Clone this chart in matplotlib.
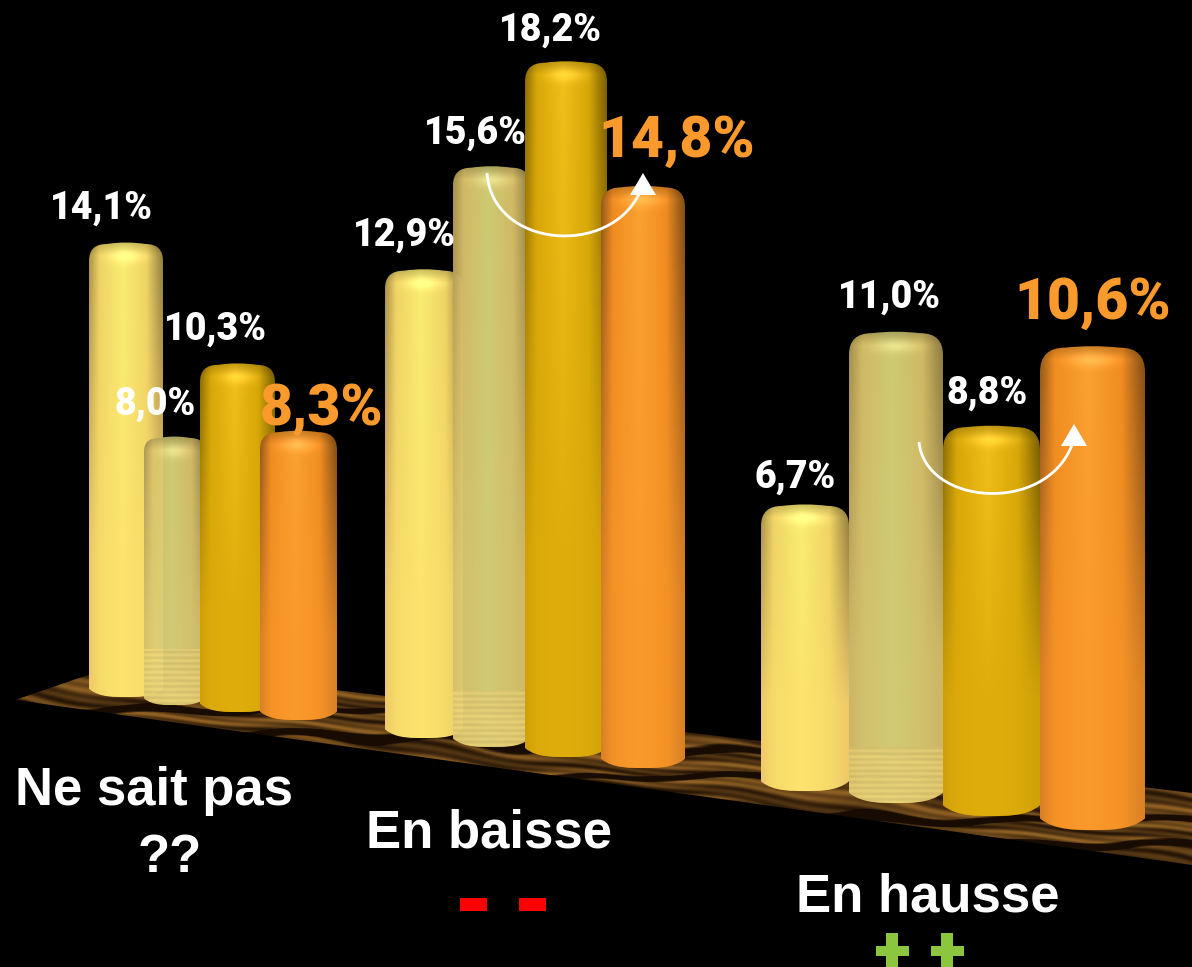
#!/usr/bin/env python3

import matplotlib
matplotlib.use('Agg')
import matplotlib.pyplot as plt
from matplotlib.colors import to_rgb
from matplotlib.patches import PathPatch, Polygon, Rectangle
from matplotlib.path import Path
import numpy as np

# Data #########################################################################
group_names = ['Ne sait pas', 'En baisse', 'En hausse']
ne_sait_pas = [14.1, 8.0, 10.3, 8.3]
en_baisse = [12.9, 15.6, 18.2, 14.8]
en_hausse = [6.7, 11.0, 8.8, 10.6]
value_text = ['14,1%', '8,0%', '10,3%', '8,3%',
              '12,9%', '15,6%', '18,2%', '14,8%',
              '6,7%', '11,0%', '8,8%', '10,6%']

# Layout (pixels of the picture, the floor is in perspective) ##################
bar_left = [89, 144, 200, 260, 385, 453, 525, 601, 761, 849, 943, 1040]
bar_right = [163, 205, 275, 337, 463, 530, 607, 685, 849, 943, 1040, 1145]
bar_base = [697, 705, 712, 720, 738, 747, 757, 768, 791, 803, 816, 830]
px_per_pct = [32.2, 33.5, 33.8, 34.8, 36.3, 37.2, 38.2, 39.3, 42.7, 42.8, 44.3, 45.6]
label_x = [101, 155, 215, 321, 404, 475, 550, 677, 795, 889, 987, 1093]
label_y = [208, 404, 329, 409, 235, 133, 30, 141, 477, 297, 393, 303]

W, H = 1192, 967

# edge, shoulder, centre at the top of the bar, then edge and centre at the foot
yellow = ('#a89048', '#eed264', '#f8ee72', '#efc96a', '#fde46e')
pale = ('#ab9652', '#dcc268', '#d8d47a', '#d8bf6c', '#dcd47c')
gold = ('#8a6c02', '#d6a608', '#f2c01a', '#cfa008', '#e0ae0c')
orange = ('#94591a', '#ef8b20', '#faa232', '#d98026', '#fb9a2c')
palette = [yellow, pale, gold, orange]


def bar_path(left, right, top, base):
    width = right - left
    r = width * 0.24
    sag = width * 0.11
    mid = (left + right) / 2
    verts = [(left, base - sag), (left, top + r), (left, top + 1), (left + r, top + 1),
             (mid, top - 2), (right - r, top + 1),
             (right, top + 1), (right, top + r), (right, base - sag),
             (right - width * 0.14, base + 1), (mid + width * 0.12, base), (mid, base),
             (mid - width * 0.12, base), (left + width * 0.14, base + 1), (left, base - sag)]
    codes = [Path.MOVETO, Path.LINETO, Path.CURVE3, Path.CURVE3,
             Path.CURVE3, Path.CURVE3, Path.CURVE3, Path.CURVE3, Path.LINETO,
             Path.CURVE4, Path.CURVE4, Path.CURVE4, Path.CURVE4, Path.CURVE4, Path.CURVE4]
    return Path(verts, codes)


def draw_bar(ax, left, right, top, base, colors, stripes=False, alpha=1.0, zorder=2):
    edge, shoulder, centre, low_edge, low_centre = [np.array(to_rgb(c)) for c in colors]
    w = int(right - left) + 1
    h = int(base - top) + 2
    x = np.linspace(0, 1, w)
    stops = [0, 0.14, 0.46, 0.78, 1]
    img = np.zeros((h, w, 3))
    for c in range(3):
        upper = np.interp(x, stops, [edge[c], shoulder[c], centre[c], shoulder[c], edge[c] * 0.85])
        lower = np.interp(x, stops, [low_edge[c], (shoulder[c] + low_centre[c]) / 2, low_centre[c],
                                     (shoulder[c] + low_centre[c]) / 2, low_edge[c]])
        for row in range(h):
            t = min(row / (h * 0.7), 1.0)
            img[row, :, c] = upper * (1 - t) + lower * t
    # rim and highlight on the cap
    rows = np.arange(h)
    rim = 0.8 + 0.2 * np.clip(rows / 14.0, 0, 1)
    img *= rim[:, None, None]
    yy, xx = np.mgrid[0:h, 0:w]
    glow = np.exp(-(((xx - w / 2) / (w * 0.24)) ** 2 + ((yy - 14) / 7.0) ** 2))
    img += glow[:, :, None] * 0.12
    # reflection of the floor at the foot of the pale bars
    if stripes:
        foot = yy > h - 58
        ripple = 0.5 + 0.5 * np.sin(yy * 1.1)
        img[foot] = img[foot] * 0.45 + np.array([0.99, 0.88, 0.5]) * (0.48 + 0.07 * ripple[foot])[:, None]
    img = np.clip(img, 0, 1)
    im = ax.imshow(img, extent=(left, right, base + 1, top - 1), origin='upper',
                   aspect='auto', alpha=alpha, zorder=zorder, interpolation='bilinear')
    im.set_clip_path(PathPatch(bar_path(left, right, top, base), transform=ax.transData))


def draw_floor(ax):
    xs = np.arange(0, W, 1.0)
    ys = np.arange(650, 880, 1.0)
    xx, yy = np.meshgrid(xs, ys)
    u = yy - 0.13 * xx
    warp = 3.0 * np.sin(xx / 67.0 + u / 13.0) + 1.6 * np.sin(xx / 23.0 + 1.3)
    grain = np.sin((u + warp) * 0.8) * 0.4 + np.sin((u + warp * 1.7) * 0.29 + xx / 90.0) * 0.6
    dark = np.clip(np.sin((u + warp * 2) * 0.19 + xx / 45.0) - 0.6, 0, 1) * 2.5
    v = np.clip(0.5 + 0.4 * grain - dark, 0, 1)[:, :, None]
    img = np.array(to_rgb('#170b02')) * (1 - v) + np.array(to_rgb('#a06c28')) * v
    im = ax.imshow(img, extent=(0, W, 880, 650), origin='upper', aspect='auto', zorder=1,
                   interpolation='bilinear')
    shape = Polygon([(15, 700), (120, 664), (1192, 793), (1192, 865)], closed=True,
                    transform=ax.transData)
    im.set_clip_path(shape)


def draw_swoosh(ax, p0, c1, c2, p3, tip, half):
    arc = Path([p0, c1, c2, p3], [Path.MOVETO, Path.CURVE4, Path.CURVE4, Path.CURVE4])
    ax.add_patch(PathPatch(arc, fc='none', ec='white', lw=2.0, zorder=6))
    ax.add_patch(Polygon([tip, (tip[0] - half, tip[1] + 22), (tip[0] + half, tip[1] + 22)],
                         closed=True, fc='white', ec='none', zorder=6))


# Plot #########################################################################
fig = plt.figure(figsize=(W / 100, H / 100), dpi=100, facecolor='black')
ax = fig.add_axes([0, 0, 1, 1])
ax.set_facecolor('black')
ax.axis('off')

draw_floor(ax)

values = ne_sait_pas + en_baisse + en_hausse
for i, val in enumerate(values):
    top = bar_base[i] - val * px_per_pct[i]
    kind = i % 4
    draw_bar(ax, bar_left[i], bar_right[i], top, bar_base[i], palette[kind],
             stripes=(kind == 1), alpha=0.96 if kind == 1 else 1.0, zorder=2 + i * 0.1)

narrow = ['Roboto', 'DejaVu Sans']
for i, txt in enumerate(value_text):
    big = i in (3, 7, 11)
    ax.text(label_x[i], label_y[i], txt, color='#fb9a2c' if big else 'white',
            family=narrow, weight='black', fontsize=41 if big else 27,
            ha='center', va='center', zorder=7)

draw_swoosh(ax, (487, 173), (492, 248), (610, 258), (640, 192), (643, 173), 13)
draw_swoosh(ax, (919, 442), (925, 505), (1045, 515), (1072, 445), (1074, 424), 13)

bold = dict(family=['Liberation Sans', 'DejaVu Sans'], weight='bold', color='white',
            fontsize=38, ha='center', va='center', zorder=7)
ax.text(154, 791, group_names[0], **bold)
ax.text(170, 858, '??', **bold)
ax.text(489, 834, group_names[1], **bold)
ax.text(928, 898, group_names[2], **bold)

# the minus and plus signs under the groups
for x0 in (460, 519):
    ax.add_patch(Rectangle((x0, 898), 27, 13, fc='#ff0000', ec='none', zorder=7))
for cx in (892, 947):
    ax.add_patch(Rectangle((cx - 16, 946), 33, 10, fc='#8cc63f', ec='none', zorder=7))
    ax.add_patch(Rectangle((cx - 6, 933), 12, 34, fc='#8cc63f', ec='none', zorder=7))

ax.set_xlim(0, W)
ax.set_ylim(H, 0)

plt.savefig('out.png', dpi=100, facecolor='black')
